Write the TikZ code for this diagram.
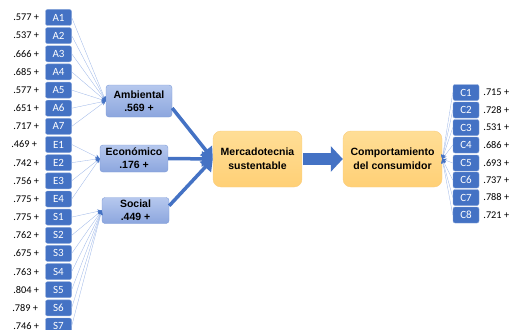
\documentclass[tikz,border=0pt]{standalone}
\usepackage{fontspec}
\setmainfont{Carlito}
\newfontfamily\arialfont{Liberation Sans}
\usetikzlibrary{arrows.meta,positioning}

\definecolor{indblue}{RGB}{68,114,196}
\definecolor{thinblue}{RGB}{160,185,232}
\definecolor{lattop}{RGB}{182,200,238}
\definecolor{latbot}{RGB}{140,166,222}
\definecolor{latline}{RGB}{125,155,215}
\definecolor{contop}{RGB}{255,222,150}
\definecolor{conbot}{RGB}{255,208,118}
\definecolor{conline}{RGB}{250,205,125}

\tikzset{
  ind/.style={draw=indblue!65!white, fill=indblue, rounded corners=2pt, minimum width=26pt, minimum height=16pt, inner sep=0pt, text=white, font=\fontsize{11}{12}\selectfont},
  lbl/.style={inner sep=0pt, font=\fontsize{10.3}{12}\selectfont},
  lat/.style={draw=latline, top color=lattop, bottom color=latbot, rounded corners=3pt, inner sep=1pt, align=center, font=\arialfont\bfseries\fontsize{10.5}{13}\selectfont},
  cons/.style={draw=conline, top color=contop, bottom color=conbot, rounded corners=8pt, minimum height=56pt, inner sep=1pt, align=center, font=\arialfont\bfseries\fontsize{10.5}{14}\selectfont},
  loadline/.style={draw=thinblue, line width=0.35pt, -{Stealth[length=4.5pt,width=4pt,color=indblue]}},
  pathline/.style={draw=indblue, line width=3.5pt, -{Triangle[length=11pt,width=15pt]}},
}

\begin{document}
\begin{tikzpicture}[x=1pt,y=1pt,yscale=-1,xscale=1]
    \useasboundingbox (0,0) rectangle (510,329);

    % Indicadores izquierda
    \node[ind] (A1) at (58.5,17.5) {A1};
    \node[ind] (A2) at (58.5,35.6) {A2};
    \node[ind] (A3) at (58.5,53.8) {A3};
    \node[ind] (A4) at (58.5,71.9) {A4};
    \node[ind] (A5) at (58.5,90.1) {A5};
    \node[ind] (A6) at (58.5,108.2) {A6};
    \node[ind] (A7) at (58.5,126.4) {A7};
    \node[ind] (E1) at (58.5,144.5) {E1};
    \node[ind] (E2) at (58.5,162.7) {E2};
    \node[ind] (E3) at (58.5,180.8) {E3};
    \node[ind] (E4) at (58.5,199.0) {E4};
    \node[ind] (S1) at (58.5,217.1) {S1};
    \node[ind] (S2) at (58.5,235.3) {S2};
    \node[ind] (S3) at (58.5,253.4) {S3};
    \node[ind] (S4) at (58.5,271.6) {S4};
    \node[ind] (S5) at (58.5,289.7) {S5};
    \node[ind] (S6) at (58.5,307.9) {S6};
    \node[ind] (S7) at (58.5,326.0) {S7};

    % Cargas izquierda
    \node[lbl, left=6pt of A1] (lA1) {.577 +};
    \node[lbl, left=6pt of A2] (lA2) {.537 +};
    \node[lbl, left=6pt of A3] (lA3) {.666 +};
    \node[lbl, left=6pt of A4] (lA4) {.685 +};
    \node[lbl, left=6pt of A5] (lA5) {.577 +};
    \node[lbl, left=6pt of A6] (lA6) {.651 +};
    \node[lbl, left=6pt of A7] (lA7) {.717 +};
    \node[lbl, left=8pt of E1] (lE1) {.469 +};
    \node[lbl, left=6pt of E2] (lE2) {.742 +};
    \node[lbl, left=6pt of E3] (lE3) {.756 +};
    \node[lbl, left=6pt of E4] (lE4) {.775 +};
    \node[lbl, left=6pt of S1] (lS1) {.775 +};
    \node[lbl, left=6pt of S2] (lS2) {.762 +};
    \node[lbl, left=6pt of S3] (lS3) {.675 +};
    \node[lbl, left=6pt of S4] (lS4) {.763 +};
    \node[lbl, left=6pt of S5] (lS5) {.804 +};
    \node[lbl, left=7pt of S6] (lS6) {.789 +};
    \node[lbl, left=6pt of S7] (lS7) {.746 +};

    % Dimensiones
    \node[lat, minimum width=66pt, minimum height=32pt] (amb) at (139,101) {Ambiental\\.569 +};
    \node[lat, minimum width=68pt, minimum height=27pt] (eco) at (134,158.5) {Económico\\.176 +};
    \node[lat, minimum width=67pt, minimum height=26pt] (soc) at (135.5,210.5) {Social\\.449 +};

    % Constructos
    \node[cons, minimum width=89pt] (merc) at (257.5,159) {Mercadotecnia\\sustentable};
    \node[cons, minimum width=99pt] (comp) at (392.5,159) {Comportamiento\\del consumidor};

    % Indicadores derecha
    \node[ind] (C1) at (466,92.5) {C1};
    \node[ind] (C2) at (466,110) {C2};
    \node[ind] (C3) at (466,127.5) {C3};
    \node[ind] (C4) at (466,145) {C4};
    \node[ind] (C5) at (466,163) {C5};
    \node[ind] (C6) at (466,180) {C6};
    \node[ind] (C7) at (466,197.5) {C7};
    \node[ind] (C8) at (466,215) {C8};

    % Cargas derecha
    \node[lbl, right=4pt of C1] (lC1) {.715 +};
    \node[lbl, right=4pt of C2] (lC2) {.728 +};
    \node[lbl, right=4pt of C3] (lC3) {.531 +};
    \node[lbl, right=4pt of C4] (lC4) {.686 +};
    \node[lbl, right=4pt of C5] (lC5) {.693 +};
    \node[lbl, right=4pt of C6] (lC6) {.737 +};
    \node[lbl, right=4pt of C7] (lC7) {.788 +};
    \node[lbl, right=4pt of C8] (lC8) {.721 +};

    % Lineas finas
    \draw[loadline] (A1.east) -- (amb.west);
    \draw[loadline] (A2.east) -- (amb.west);
    \draw[loadline] (A3.east) -- (amb.west);
    \draw[loadline] (A4.east) -- (amb.west);
    \draw[loadline] (A5.east) -- (amb.west);
    \draw[loadline] (A6.east) -- (amb.west);
    \draw[loadline] (A7.east) -- (amb.west);
    \draw[loadline] (E1.east) -- (eco.west);
    \draw[loadline] (E2.east) -- (eco.west);
    \draw[loadline] (E3.east) -- (eco.west);
    \draw[loadline] (E4.east) -- (eco.west);
    \draw[loadline] (S1.east) -- (soc.west);
    \draw[loadline] (S2.east) -- (soc.west);
    \draw[loadline] (S3.east) -- (soc.west);
    \draw[loadline] (S4.east) -- (soc.west);
    \draw[loadline] (S5.east) -- (soc.west);
    \draw[loadline] (S6.east) -- (soc.west);
    \draw[loadline] (S7.east) -- (soc.west);
    \draw[loadline] (C1.west) -- (comp.east);
    \draw[loadline] (C2.west) -- (comp.east);
    \draw[loadline] (C3.west) -- (comp.east);
    \draw[loadline] (C4.west) -- (comp.east);
    \draw[loadline] (C5.west) -- (comp.east);
    \draw[loadline] (C6.west) -- (comp.east);
    \draw[loadline] (C7.west) -- (comp.east);
    \draw[loadline] (C8.west) -- (comp.east);

    % Flechas gruesas
    \draw[pathline] (amb.-12) -- (merc.west);
    \draw[pathline] (eco.east) -- (merc.west);
    \draw[pathline] (soc.8) -- (merc.west);
    \draw[indblue, line width=12pt, -{Triangle[length=12pt,width=25pt]}, shorten <=1pt] (merc.east) -- (comp.west);

\end{tikzpicture}
\end{document}
